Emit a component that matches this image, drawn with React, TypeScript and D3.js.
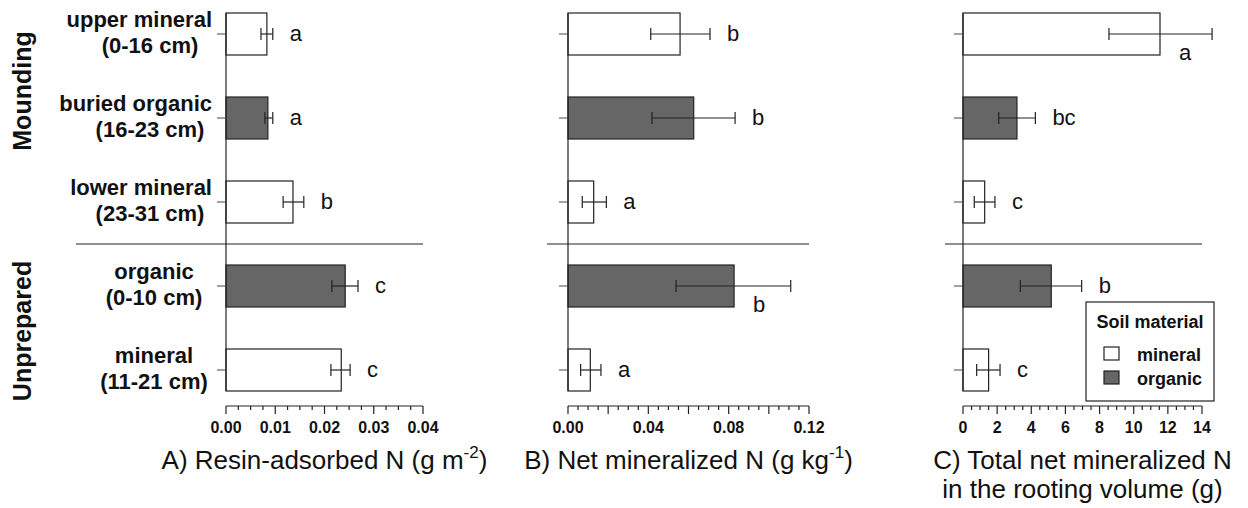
import React, { useEffect, useRef } from "react";
import * as d3 from "d3";

// soil layers, top to bottom
const labelLine1 = ["upper mineral", "buried organic", "lower mineral", "organic", "mineral"];
const labelLine2 = ["(0-16 cm)", "(16-23 cm)", "(23-31 cm)", "(0-10 cm)", "(11-21 cm)"];
const material = ["mineral", "organic", "mineral", "organic", "mineral"];
const groups = ["Mounding", "Unprepared"];

// A) resin-adsorbed N
const resinMean = [0.0083, 0.0085, 0.0136, 0.0242, 0.0234];
const resinLow = [0.0071, 0.0079, 0.0116, 0.0215, 0.0213];
const resinHigh = [0.0095, 0.0095, 0.0158, 0.0268, 0.0252];
const resinLetters = ["a", "a", "b", "c", "c"];

// B) net mineralized N
const netMean = [0.0558, 0.0626, 0.0128, 0.0827, 0.0111];
const netLow = [0.0412, 0.0418, 0.0071, 0.0538, 0.0063];
const netHigh = [0.0707, 0.0832, 0.0191, 0.1109, 0.0164];
const netLetters = ["b", "b", "a", "b", "a"];

// C) total net mineralized N in rooting volume
const totalMean = [11.54, 3.16, 1.27, 5.17, 1.5];
const totalLow = [8.55, 2.09, 0.66, 3.36, 0.8];
const totalHigh = [14.59, 4.24, 1.87, 6.95, 2.17];
const totalLetters = ["a", "bc", "c", "b", "c"];

const legendItems = ["mineral", "organic"];

const FONT = "'Liberation Sans', Arial, Helvetica, sans-serif";
const fills = { mineral: "#ffffff", organic: "#666666" };

const App = () => {
    const svgRef = useRef(null);

    useEffect(() => {
        const svg = d3.select(svgRef.current);
        svg.selectAll("*").remove();
        svg.attr("font-family", FONT);

        const idx = d3.range(labelLine1.length);
        const y = d3.scaleBand().domain(idx).range([13, 391]).paddingInner(0.5).paddingOuter(0);
        const cy = (i) => y(i) + y.bandwidth() / 2;
        const sepY = (y(2) + y.bandwidth() + y(3)) / 2;
        const axisY = 406;

        const panels = [
            {
                mean: resinMean, low: resinLow, high: resinHigh, letters: resinLetters,
                domain: [0, 0.04], range: [226, 423], sepFrom: 76,
                major: d3.range(0, 0.0401, 0.01), labelled: d3.range(0, 0.0401, 0.01),
                minor: d3.range(0, 0.0401, 0.0025), fmt: d3.format(".2f"),
                title: [["A) Resin-adsorbed N (g m", "-2", ")"]],
            },
            {
                mean: netMean, low: netLow, high: netHigh, letters: netLetters,
                domain: [0, 0.12], range: [568, 809], sepFrom: 547,
                major: d3.range(0, 0.1201, 0.02), labelled: d3.range(0, 0.1201, 0.04),
                minor: d3.range(0, 0.1201, 0.005), fmt: d3.format(".2f"),
                title: [["B) Net mineralized N (g kg", "-1", ")"]],
            },
            {
                mean: totalMean, low: totalLow, high: totalHigh, letters: totalLetters,
                domain: [0, 14], range: [963, 1202], sepFrom: 945,
                major: d3.range(0, 14.01, 2), labelled: d3.range(0, 14.01, 2),
                minor: d3.range(0, 14.01, 0.5), fmt: d3.format("d"),
                title: [["C) Total net mineralized N"], ["in the rooting volume (g)"]],
            },
        ];

        panels.forEach((p) => {
            const x = d3.scaleLinear().domain(p.domain).range(p.range);
            const g = svg.append("g");

            // separator between site preparations
            g.append("line")
                .attr("x1", p.sepFrom).attr("x2", p.range[1])
                .attr("y1", sepY).attr("y2", sepY)
                .attr("stroke", "#222").attr("stroke-width", 1);

            // bars
            g.selectAll("rect.bar")
                .data(idx)
                .enter()
                .append("rect")
                .attr("x", x(0))
                .attr("y", (i) => y(i))
                .attr("width", (i) => x(p.mean[i]) - x(0))
                .attr("height", y.bandwidth())
                .attr("fill", (i) => fills[material[i]])
                .attr("stroke", "#222")
                .attr("stroke-width", 1.2);

            // y axis line and ticks
            g.append("line")
                .attr("x1", x(0)).attr("x2", x(0))
                .attr("y1", y(0)).attr("y2", y(4) + y.bandwidth())
                .attr("stroke", "#222").attr("stroke-width", 1.2);
            g.selectAll("line.ytick")
                .data(idx)
                .enter()
                .append("line")
                .attr("x1", x(0) - 9).attr("x2", x(0))
                .attr("y1", cy).attr("y2", cy)
                .attr("stroke", "#444");

            // error bars
            const eb = g.selectAll("g.err").data(idx).enter().append("g").attr("stroke", "#222").attr("stroke-width", 1.2);
            eb.append("line").attr("x1", (i) => x(p.low[i])).attr("x2", (i) => x(p.high[i])).attr("y1", cy).attr("y2", cy);
            eb.append("line").attr("x1", (i) => x(p.low[i])).attr("x2", (i) => x(p.low[i])).attr("y1", (i) => cy(i) - 6).attr("y2", (i) => cy(i) + 6);
            eb.append("line").attr("x1", (i) => x(p.high[i])).attr("x2", (i) => x(p.high[i])).attr("y1", (i) => cy(i) - 6).attr("y2", (i) => cy(i) + 6);

            // significance letters
            g.selectAll("text.letter")
                .data(idx)
                .enter()
                .append("text")
                .attr("font-size", 22)
                .attr("fill", "#111")
                .each(function (i) {
                    const t = d3.select(this);
                    if (x(p.high[i]) + 26 > p.range[1]) {
                        t.attr("x", x(p.mean[i]) + 25).attr("y", cy(i) + 26).attr("text-anchor", "middle");
                    } else {
                        t.attr("x", x(p.high[i]) + 17).attr("y", cy(i) + 7).attr("text-anchor", "start");
                    }
                })
                .text((i) => p.letters[i]);

            // x axis
            g.append("line")
                .attr("x1", p.range[0]).attr("x2", p.range[1])
                .attr("y1", axisY).attr("y2", axisY)
                .attr("stroke", "#222").attr("stroke-width", 1.2);
            g.selectAll("line.minor")
                .data(p.minor)
                .enter()
                .append("line")
                .attr("x1", (d) => x(d)).attr("x2", (d) => x(d))
                .attr("y1", axisY)
                .attr("y2", (d) => axisY + (p.major.some((m) => Math.abs(m - d) < 1e-9) ? 8 : 4))
                .attr("stroke", "#222").attr("stroke-width", 1.2);
            g.selectAll("text.tick")
                .data(p.labelled)
                .enter()
                .append("text")
                .attr("x", (d) => x(d))
                .attr("y", 433)
                .attr("text-anchor", "middle")
                .attr("font-size", 16)
                .attr("font-weight", "bold")
                .attr("fill", "#111")
                .text((d) => p.fmt(d));

            // axis title
            const cx = (p.range[0] + p.range[1]) / 2;
            p.title.forEach((parts, li) => {
                const t = g.append("text")
                    .attr("x", cx)
                    .attr("y", 469 + li * 29)
                    .attr("text-anchor", "middle")
                    .attr("font-size", 26)
                    .attr("fill", "#111");
                t.append("tspan").text(parts[0]);
                if (parts.length > 1) {
                    t.append("tspan").attr("font-size", 17).attr("dy", -11).text(parts[1]);
                    t.append("tspan").attr("dy", 11).text(parts[2]);
                }
            });
        });

        // category labels
        const lab = svg.append("g").attr("font-size", 22).attr("font-weight", "bold").attr("fill", "#111");
        idx.forEach((i) => {
            const top = i < 3;
            lab.append("text")
                .attr("x", top ? 212 : 154)
                .attr("y", cy(i) - 7)
                .attr("text-anchor", top ? "end" : "middle")
                .text(labelLine1[i]);
            lab.append("text")
                .attr("x", top ? 150 : 154)
                .attr("y", cy(i) + 19)
                .attr("text-anchor", "middle")
                .text(labelLine2[i]);
        });

        // site preparation group labels
        [91, 331].forEach((gy, k) => {
            svg.append("text")
                .attr("transform", `translate(31,${gy}) rotate(-90)`)
                .attr("text-anchor", "middle")
                .attr("font-size", 25)
                .attr("font-weight", "bold")
                .attr("fill", "#111")
                .text(groups[k]);
        });

        // legend
        const lg = svg.append("g");
        lg.append("rect")
            .attr("x", 1086).attr("y", 302).attr("width", 128).attr("height", 99)
            .attr("fill", "#fff").attr("stroke", "#222").attr("stroke-width", 1.2);
        lg.append("text")
            .attr("x", 1150).attr("y", 328)
            .attr("text-anchor", "middle")
            .attr("font-size", 18).attr("font-weight", "bold").attr("fill", "#111")
            .text("Soil material");
        legendItems.forEach((m, k) => {
            lg.append("rect")
                .attr("x", 1104).attr("y", 347 + k * 24).attr("width", 15).attr("height", 13)
                .attr("fill", fills[m]).attr("stroke", "#222").attr("stroke-width", 1.2);
            lg.append("text")
                .attr("x", 1137).attr("y", 361 + k * 24)
                .attr("font-size", 18).attr("font-weight", "bold").attr("fill", "#111")
                .text(m);
        });
    }, []);

    return (
        <svg
            ref={svgRef}
            width={1248}
            height={508}
            style={{ position: "absolute", left: 0, top: 0, background: "#fff" }}
        ></svg>
    );
};

export default App;
